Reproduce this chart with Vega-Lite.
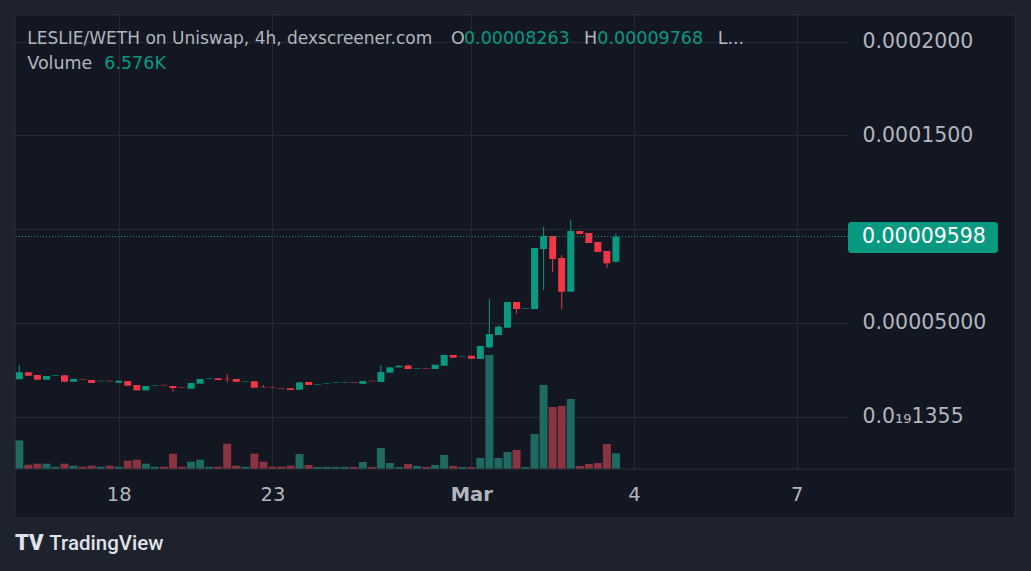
{
  "$schema": "https://vega.github.io/schema/vega-lite/v6.json",
  "width": 833,
  "height": 454,
  "autosize": {"type": "none"},
  "padding": {"left": 15, "top": 15, "right": 183, "bottom": 102},
  "background": "#131722",
  "config": {
    "view": {"fill": "#131722", "stroke": null},
    "text": {"font": "DejaVu Sans"},
    "axis": {"labelFont": "DejaVu Sans"},
    "scale": {"continuousPadding": 0}
  },
  "datasets": {
    "candles": [
      {"i": 0, "o": 1.985e-5, "h": 2.748e-5, "l": 1.985e-5, "c": 2.359e-5, "v": 11.97},
      {"i": 1, "o": 2.359e-5, "h": 2.359e-5, "l": 2.177e-5, "c": 2.177e-5, "v": 1.80},
      {"i": 2, "o": 2.215e-5, "h": 2.215e-5, "l": 1.964e-5, "c": 1.964e-5, "v": 2.22},
      {"i": 3, "o": 1.964e-5, "h": 2.161e-5, "l": 1.964e-5, "c": 2.161e-5, "v": 2.22},
      {"i": 4, "o": 2.170e-5, "h": 2.200e-5, "l": 2.170e-5, "c": 2.200e-5, "v": 0.96},
      {"i": 5, "o": 2.199e-5, "h": 2.199e-5, "l": 1.857e-5, "c": 1.857e-5, "v": 2.22},
      {"i": 6, "o": 1.857e-5, "h": 2.001e-5, "l": 1.857e-5, "c": 2.001e-5, "v": 1.38},
      {"i": 7, "o": 2.000e-5, "h": 2.000e-5, "l": 1.975e-5, "c": 1.975e-5, "v": 0.96},
      {"i": 8, "o": 1.948e-5, "h": 1.948e-5, "l": 1.788e-5, "c": 1.788e-5, "v": 1.38},
      {"i": 9, "o": 1.880e-5, "h": 1.905e-5, "l": 1.880e-5, "c": 1.905e-5, "v": 0.96},
      {"i": 10, "o": 1.905e-5, "h": 1.905e-5, "l": 1.880e-5, "c": 1.880e-5, "v": 1.38},
      {"i": 11, "o": 1.804e-5, "h": 1.910e-5, "l": 1.804e-5, "c": 1.910e-5, "v": 0.96},
      {"i": 12, "o": 1.894e-5, "h": 1.894e-5, "l": 1.644e-5, "c": 1.644e-5, "v": 3.47},
      {"i": 13, "o": 1.681e-5, "h": 1.681e-5, "l": 1.398e-5, "c": 1.398e-5, "v": 3.89},
      {"i": 14, "o": 1.398e-5, "h": 1.628e-5, "l": 1.398e-5, "c": 1.628e-5, "v": 2.22},
      {"i": 15, "o": 1.650e-5, "h": 1.675e-5, "l": 1.650e-5, "c": 1.675e-5, "v": 0.96},
      {"i": 16, "o": 1.690e-5, "h": 1.690e-5, "l": 1.665e-5, "c": 1.665e-5, "v": 0.96},
      {"i": 17, "o": 1.628e-5, "h": 1.628e-5, "l": 1.323e-5, "c": 1.521e-5, "v": 6.40},
      {"i": 18, "o": 1.570e-5, "h": 1.570e-5, "l": 1.545e-5, "c": 1.545e-5, "v": 0.96},
      {"i": 19, "o": 1.483e-5, "h": 1.788e-5, "l": 1.483e-5, "c": 1.788e-5, "v": 3.06},
      {"i": 20, "o": 1.750e-5, "h": 2.001e-5, "l": 1.750e-5, "c": 2.001e-5, "v": 3.89},
      {"i": 21, "o": 2.015e-5, "h": 2.040e-5, "l": 2.015e-5, "c": 2.040e-5, "v": 0.96},
      {"i": 22, "o": 2.038e-5, "h": 2.038e-5, "l": 1.948e-5, "c": 1.948e-5, "v": 0.96},
      {"i": 23, "o": 2.010e-5, "h": 2.252e-5, "l": 1.825e-5, "c": 1.990e-5, "v": 10.59},
      {"i": 24, "o": 2.001e-5, "h": 2.001e-5, "l": 1.857e-5, "c": 1.857e-5, "v": 1.38},
      {"i": 25, "o": 1.865e-5, "h": 1.890e-5, "l": 1.865e-5, "c": 1.890e-5, "v": 0.96},
      {"i": 26, "o": 1.878e-5, "h": 1.878e-5, "l": 1.537e-5, "c": 1.537e-5, "v": 6.40},
      {"i": 27, "o": 1.585e-5, "h": 1.681e-5, "l": 1.560e-5, "c": 1.560e-5, "v": 3.06},
      {"i": 28, "o": 1.570e-5, "h": 1.570e-5, "l": 1.545e-5, "c": 1.545e-5, "v": 0.96},
      {"i": 29, "o": 1.495e-5, "h": 1.495e-5, "l": 1.470e-5, "c": 1.470e-5, "v": 0.96},
      {"i": 30, "o": 1.505e-5, "h": 1.505e-5, "l": 1.414e-5, "c": 1.414e-5, "v": 1.38},
      {"i": 31, "o": 1.430e-5, "h": 1.825e-5, "l": 1.430e-5, "c": 1.825e-5, "v": 6.28},
      {"i": 32, "o": 1.841e-5, "h": 1.841e-5, "l": 1.681e-5, "c": 1.681e-5, "v": 1.67},
      {"i": 33, "o": 1.705e-5, "h": 1.730e-5, "l": 1.705e-5, "c": 1.730e-5, "v": 0.84},
      {"i": 34, "o": 1.760e-5, "h": 1.785e-5, "l": 1.760e-5, "c": 1.785e-5, "v": 0.84},
      {"i": 35, "o": 1.810e-5, "h": 1.835e-5, "l": 1.810e-5, "c": 1.835e-5, "v": 0.84},
      {"i": 36, "o": 1.820e-5, "h": 1.845e-5, "l": 1.820e-5, "c": 1.845e-5, "v": 0.84},
      {"i": 37, "o": 1.820e-5, "h": 1.820e-5, "l": 1.795e-5, "c": 1.795e-5, "v": 0.84},
      {"i": 38, "o": 1.750e-5, "h": 1.894e-5, "l": 1.750e-5, "c": 1.894e-5, "v": 2.93},
      {"i": 39, "o": 1.905e-5, "h": 1.905e-5, "l": 1.880e-5, "c": 1.880e-5, "v": 0.84},
      {"i": 40, "o": 1.841e-5, "h": 2.748e-5, "l": 1.841e-5, "c": 2.375e-5, "v": 8.79},
      {"i": 41, "o": 2.337e-5, "h": 2.625e-5, "l": 2.337e-5, "c": 2.625e-5, "v": 2.51},
      {"i": 42, "o": 2.625e-5, "h": 2.711e-5, "l": 2.625e-5, "c": 2.711e-5, "v": 0.84},
      {"i": 43, "o": 2.720e-5, "h": 2.764e-5, "l": 2.535e-5, "c": 2.535e-5, "v": 2.09},
      {"i": 44, "o": 2.560e-5, "h": 2.585e-5, "l": 2.560e-5, "c": 2.585e-5, "v": 1.26},
      {"i": 45, "o": 2.575e-5, "h": 2.575e-5, "l": 2.550e-5, "c": 2.550e-5, "v": 0.84},
      {"i": 46, "o": 2.535e-5, "h": 2.764e-5, "l": 2.535e-5, "c": 2.764e-5, "v": 1.67},
      {"i": 47, "o": 2.711e-5, "h": 3.282e-5, "l": 2.711e-5, "c": 3.282e-5, "v": 5.86},
      {"i": 48, "o": 3.282e-5, "h": 3.282e-5, "l": 3.138e-5, "c": 3.138e-5, "v": 1.26},
      {"i": 49, "o": 3.200e-5, "h": 3.225e-5, "l": 3.200e-5, "c": 3.225e-5, "v": 0.84},
      {"i": 50, "o": 3.244e-5, "h": 3.244e-5, "l": 3.084e-5, "c": 3.084e-5, "v": 0.84},
      {"i": 51, "o": 3.068e-5, "h": 3.762e-5, "l": 3.068e-5, "c": 3.762e-5, "v": 4.60},
      {"i": 52, "o": 3.693e-5, "h": 6.270e-5, "l": 3.639e-5, "c": 4.402e-5, "v": 47.7},
      {"i": 53, "o": 4.349e-5, "h": 4.883e-5, "l": 4.349e-5, "c": 4.792e-5, "v": 4.60},
      {"i": 54, "o": 4.739e-5, "h": 6.110e-5, "l": 4.739e-5, "c": 6.110e-5, "v": 7.12},
      {"i": 55, "o": 6.110e-5, "h": 6.110e-5, "l": 5.486e-5, "c": 5.736e-5, "v": 7.95},
      {"i": 56, "o": 5.760e-5, "h": 5.790e-5, "l": 5.760e-5, "c": 5.790e-5, "v": 0.84},
      {"i": 57, "o": 5.736e-5, "h": 8.991e-5, "l": 5.736e-5, "c": 8.991e-5, "v": 14.65},
      {"i": 58, "o": 8.938e-5, "h": 10.128e-5, "l": 6.750e-5, "c": 9.632e-5, "v": 35.2},
      {"i": 59, "o": 9.632e-5, "h": 9.632e-5, "l": 7.727e-5, "c": 8.404e-5, "v": 25.95},
      {"i": 60, "o": 8.458e-5, "h": 8.618e-5, "l": 5.720e-5, "c": 6.659e-5, "v": 26.4},
      {"i": 61, "o": 6.659e-5, "h": 10.486e-5, "l": 6.659e-5, "c": 9.899e-5, "v": 29.3},
      {"i": 62, "o": 9.899e-5, "h": 9.899e-5, "l": 9.739e-5, "c": 9.739e-5, "v": 1.26},
      {"i": 63, "o": 9.792e-5, "h": 9.792e-5, "l": 9.258e-5, "c": 9.258e-5, "v": 2.09},
      {"i": 64, "o": 9.312e-5, "h": 9.312e-5, "l": 8.778e-5, "c": 8.778e-5, "v": 2.51},
      {"i": 65, "o": 8.831e-5, "h": 8.831e-5, "l": 7.924e-5, "c": 8.175e-5, "v": 10.47},
      {"i": 66, "o": 8.263e-5, "h": 9.768e-5, "l": 8.207e-5, "c": 9.598e-5, "v": 6.576}
    ]
  },
  "layer": [
    {
      "data": {"name": "candles"},
      "layer": [
        {
          "mark": {"type": "bar", "size": 8, "orient": "vertical"},
          "encoding": {
            "x": {"field": "i", "type": "quantitative", "scale": {"domain": [-0.476, 91.67], "nice": false, "zero": false, "padding": 0},
              "axis": {"orient": "bottom", "values": [11, 28, 50, 68, 86], "labelExpr": "datum.value == 11 ? '18' : datum.value == 28 ? '23' : datum.value == 50 ? 'Mar' : datum.value == 68 ? '4' : '7'", "grid": true, "gridColor": "#252934", "gridWidth": 1, "ticks": false, "tickSize": 0, "domain": false, "labelPadding": 25, "labelBaseline": "middle", "labelFontSize": 19.5, "labelColor": "#b2b5be", "labelFlush": false, "labelOverlap": false, "title": null, "zindex": 0, "labelFontWeight": {"condition": {"test": "datum.value == 50", "value": "bold"}, "value": "normal"}}},
            "y": {"field": "v", "type": "quantitative", "scale": {"domain": [0, 190], "nice": false, "padding": 0}, "axis": null},
            "color": {"condition": {"test": "datum.c >= datum.o", "value": "#1f6a60"}, "value": "#8b3441"}
          }
        },
        {
          "layer": [
            {
              "mark": {"type": "rule", "strokeWidth": 1},
              "encoding": {
                "x": {"field": "i", "type": "quantitative", "scale": {"domain": [-0.476, 91.67], "nice": false, "zero": false, "padding": 0},
                  "axis": {"orient": "bottom", "values": [11, 28, 50, 68, 86], "labelExpr": "datum.value == 11 ? '18' : datum.value == 28 ? '23' : datum.value == 50 ? 'Mar' : datum.value == 68 ? '4' : '7'", "grid": true, "gridColor": "#252934", "gridWidth": 1, "ticks": false, "tickSize": 0, "domain": false, "labelPadding": 25, "labelBaseline": "middle", "labelFontSize": 19.5, "labelColor": "#b2b5be", "labelFlush": false, "labelOverlap": false, "title": null, "zindex": 0, "labelFontWeight": {"condition": {"test": "datum.value == 50", "value": "bold"}, "value": "normal"}}},
                "y": {"field": "l", "type": "quantitative", "scale": {"domain": [-0.000028, 0.00021425], "nice": false, "zero": false, "padding": 0},
                  "axis": {"orient": "right", "values": [0, 0.00005, 0.0001, 0.00015, 0.0002], "labelExpr": "datum.value < 1e-9 ? '0.0₁₉1355' : (datum.value > 0.000099 && datum.value < 0.000101) ? '' : format(datum.value, '.4r')", "grid": true, "gridColor": "#252934", "gridWidth": 1, "ticks": false, "tickSize": 0, "domain": false, "labelPadding": 14, "labelAlign": "left", "labelBaseline": "middle", "labelFontSize": 20.5, "labelColor": "#b2b5be", "labelFlush": false, "labelOverlap": false, "title": null, "zindex": 0}},
                "y2": {"field": "h"},
                "color": {"condition": {"test": "datum.c >= datum.o", "value": "#089981"}, "value": "#f23645"}
              }
            },
            {
              "mark": {"type": "bar", "size": 7, "orient": "vertical"},
              "encoding": {
                "x": {"field": "i", "type": "quantitative", "scale": {"domain": [-0.476, 91.67], "nice": false, "zero": false, "padding": 0},
                  "axis": {"orient": "bottom", "values": [11, 28, 50, 68, 86], "labelExpr": "datum.value == 11 ? '18' : datum.value == 28 ? '23' : datum.value == 50 ? 'Mar' : datum.value == 68 ? '4' : '7'", "grid": true, "gridColor": "#252934", "gridWidth": 1, "ticks": false, "tickSize": 0, "domain": false, "labelPadding": 25, "labelBaseline": "middle", "labelFontSize": 19.5, "labelColor": "#b2b5be", "labelFlush": false, "labelOverlap": false, "title": null, "zindex": 0, "labelFontWeight": {"condition": {"test": "datum.value == 50", "value": "bold"}, "value": "normal"}}},
                "y": {"field": "o", "type": "quantitative", "scale": {"domain": [-0.000028, 0.00021425], "nice": false, "zero": false, "padding": 0},
                  "axis": {"orient": "right", "values": [0, 0.00005, 0.0001, 0.00015, 0.0002], "labelExpr": "datum.value < 1e-9 ? '0.0₁₉1355' : (datum.value > 0.000099 && datum.value < 0.000101) ? '' : format(datum.value, '.4r')", "grid": true, "gridColor": "#252934", "gridWidth": 1, "ticks": false, "tickSize": 0, "domain": false, "labelPadding": 14, "labelAlign": "left", "labelBaseline": "middle", "labelFontSize": 20.5, "labelColor": "#b2b5be", "labelFlush": false, "labelOverlap": false, "title": null, "zindex": 0}},
                "y2": {"field": "c"},
                "color": {"condition": {"test": "datum.c >= datum.o", "value": "#089981"}, "value": "#f23645"}
              }
            }
          ]
        }
      ],
      "resolve": {"scale": {"y": "independent"}}
    },
    {
      "data": {"values": [{}]},
      "layer": [
        {
          "mark": {"type": "rect", "fill": "#1e222d"},
          "encoding": {
            "x": {"datum": -2.3, "type": "quantitative", "scale": {"domain": [-0.476, 91.67], "nice": false, "zero": false, "padding": 0}, "axis": null},
            "x2": {"datum": 112.2},
            "y": {"datum": 0.000224, "type": "quantitative", "scale": {"domain": [-0.000028, 0.00021425], "nice": false, "zero": false, "padding": 0}, "axis": null},
            "y2": {"datum": 0.00021425}
          }
        },
        {
          "mark": {"type": "rect", "fill": "#1e222d"},
          "encoding": {
            "x": {"datum": -2.3, "type": "quantitative", "scale": {"domain": [-0.476, 91.67], "nice": false, "zero": false, "padding": 0}, "axis": null},
            "x2": {"datum": 112.2},
            "y": {"datum": -0.00005416, "type": "quantitative", "scale": {"domain": [-0.000028, 0.00021425], "nice": false, "zero": false, "padding": 0}, "axis": null},
            "y2": {"datum": -0.000083}
          }
        },
        {
          "mark": {"type": "rect", "fill": "#1e222d"},
          "encoding": {
            "x": {"datum": -2.3, "type": "quantitative", "scale": {"domain": [-0.476, 91.67], "nice": false, "zero": false, "padding": 0}, "axis": null},
            "x2": {"datum": -0.476},
            "y": {"datum": 0.000224, "type": "quantitative", "scale": {"domain": [-0.000028, 0.00021425], "nice": false, "zero": false, "padding": 0}, "axis": null},
            "y2": {"datum": -0.000083}
          }
        },
        {
          "mark": {"type": "rect", "fill": "#1e222d"},
          "encoding": {
            "x": {"datum": 110.15, "type": "quantitative", "scale": {"domain": [-0.476, 91.67], "nice": false, "zero": false, "padding": 0}, "axis": null},
            "x2": {"datum": 112.2},
            "y": {"datum": 0.000224, "type": "quantitative", "scale": {"domain": [-0.000028, 0.00021425], "nice": false, "zero": false, "padding": 0}, "axis": null},
            "y2": {"datum": -0.000083}
          }
        },
        {
          "mark": {"type": "rect", "fillOpacity": 0, "stroke": "#2a2e39", "strokeWidth": 1},
          "encoding": {
            "x": {"datum": -0.476, "type": "quantitative", "scale": {"domain": [-0.476, 91.67], "nice": false, "zero": false, "padding": 0}, "axis": null},
            "x2": {"datum": 110.15},
            "y": {"datum": 0.00021425, "type": "quantitative", "scale": {"domain": [-0.000028, 0.00021425], "nice": false, "zero": false, "padding": 0}, "axis": null},
            "y2": {"datum": -0.00005416}
          }
        },
        {
          "mark": {"type": "rule", "stroke": "#2a2e39", "strokeWidth": 1},
          "encoding": {
            "x": {"datum": -0.476, "type": "quantitative", "scale": {"domain": [-0.476, 91.67], "nice": false, "zero": false, "padding": 0}, "axis": null},
            "x2": {"datum": 110.15},
            "y": {"datum": -0.000028, "type": "quantitative", "scale": {"domain": [-0.000028, 0.00021425], "nice": false, "zero": false, "padding": 0}, "axis": null}
          }
        },
        {
          "mark": {"type": "rule", "stroke": "#089981", "strokeWidth": 1, "strokeDash": [1, 2]},
          "encoding": {
            "y": {"datum": 0.00009598, "type": "quantitative", "scale": {"domain": [-0.000028, 0.00021425], "nice": false, "zero": false, "padding": 0}, "axis": null}
          }
        },
        {
          "mark": {"type": "rect", "fill": "#089981", "cornerRadius": 3},
          "encoding": {
            "x": {"datum": 91.67, "type": "quantitative", "scale": {"domain": [-0.476, 91.67], "nice": false, "zero": false, "padding": 0}, "axis": null},
            "x2": {"datum": 108.26},
            "y": {"datum": 0.00010379, "type": "quantitative", "scale": {"domain": [-0.000028, 0.00021425], "nice": false, "zero": false, "padding": 0}, "axis": null},
            "y2": {"datum": 0.00008725}
          }
        },
        {
          "mark": {"type": "text", "text": "0.00009598", "fill": "#ffffff", "fontSize": 20.5, "align": "left", "baseline": "middle"},
          "encoding": {
            "x": {"datum": 93.22, "type": "quantitative", "scale": {"domain": [-0.476, 91.67], "nice": false, "zero": false, "padding": 0}, "axis": null},
            "y": {"datum": 0.00009598, "type": "quantitative", "scale": {"domain": [-0.000028, 0.00021425], "nice": false, "zero": false, "padding": 0}, "axis": null}
          }
        },
        {
          "mark": {"type": "text", "text": "LESLIE/WETH on Uniswap, 4h, dexscreener.com", "fill": "#b2b5be", "fontSize": 17, "align": "left", "baseline": "alphabetic"},
          "encoding": {
            "x": {"datum": 0.885, "type": "quantitative", "scale": {"domain": [-0.476, 91.67], "nice": false, "zero": false, "padding": 0}, "axis": null},
            "y": {"datum": 0.00019893, "type": "quantitative", "scale": {"domain": [-0.000028, 0.00021425], "nice": false, "zero": false, "padding": 0}, "axis": null}
          }
        },
        {
          "mark": {"type": "text", "text": "O", "fill": "#b2b5be", "fontSize": 17.5, "align": "left", "baseline": "alphabetic"},
          "encoding": {
            "x": {"datum": 47.75, "type": "quantitative", "scale": {"domain": [-0.476, 91.67], "nice": false, "zero": false, "padding": 0}, "axis": null},
            "y": {"datum": 0.00019893, "type": "quantitative", "scale": {"domain": [-0.000028, 0.00021425], "nice": false, "zero": false, "padding": 0}, "axis": null}
          }
        },
        {
          "mark": {"type": "text", "text": "0.00008263", "fill": "#089981", "fontSize": 17.5, "align": "left", "baseline": "alphabetic"},
          "encoding": {
            "x": {"datum": 49.19, "type": "quantitative", "scale": {"domain": [-0.476, 91.67], "nice": false, "zero": false, "padding": 0}, "axis": null},
            "y": {"datum": 0.00019893, "type": "quantitative", "scale": {"domain": [-0.000028, 0.00021425], "nice": false, "zero": false, "padding": 0}, "axis": null}
          }
        },
        {
          "mark": {"type": "text", "text": "H", "fill": "#b2b5be", "fontSize": 17.5, "align": "left", "baseline": "alphabetic"},
          "encoding": {
            "x": {"datum": 62.47, "type": "quantitative", "scale": {"domain": [-0.476, 91.67], "nice": false, "zero": false, "padding": 0}, "axis": null},
            "y": {"datum": 0.00019893, "type": "quantitative", "scale": {"domain": [-0.000028, 0.00021425], "nice": false, "zero": false, "padding": 0}, "axis": null}
          }
        },
        {
          "mark": {"type": "text", "text": "0.00009768", "fill": "#089981", "fontSize": 17.5, "align": "left", "baseline": "alphabetic"},
          "encoding": {
            "x": {"datum": 63.94, "type": "quantitative", "scale": {"domain": [-0.476, 91.67], "nice": false, "zero": false, "padding": 0}, "axis": null},
            "y": {"datum": 0.00019893, "type": "quantitative", "scale": {"domain": [-0.000028, 0.00021425], "nice": false, "zero": false, "padding": 0}, "axis": null}
          }
        },
        {
          "mark": {"type": "text", "text": "L...", "fill": "#b2b5be", "fontSize": 17.5, "align": "left", "baseline": "alphabetic"},
          "encoding": {
            "x": {"datum": 77.26, "type": "quantitative", "scale": {"domain": [-0.476, 91.67], "nice": false, "zero": false, "padding": 0}, "axis": null},
            "y": {"datum": 0.00019893, "type": "quantitative", "scale": {"domain": [-0.000028, 0.00021425], "nice": false, "zero": false, "padding": 0}, "axis": null}
          }
        },
        {
          "mark": {"type": "text", "text": "Volume", "fill": "#b2b5be", "fontSize": 17.5, "align": "left", "baseline": "alphabetic"},
          "encoding": {
            "x": {"datum": 0.885, "type": "quantitative", "scale": {"domain": [-0.476, 91.67], "nice": false, "zero": false, "padding": 0}, "axis": null},
            "y": {"datum": 0.00018527, "type": "quantitative", "scale": {"domain": [-0.000028, 0.00021425], "nice": false, "zero": false, "padding": 0}, "axis": null}
          }
        },
        {
          "mark": {"type": "text", "text": "6.576K", "fill": "#089981", "fontSize": 17.5, "align": "left", "baseline": "alphabetic"},
          "encoding": {
            "x": {"datum": 9.40, "type": "quantitative", "scale": {"domain": [-0.476, 91.67], "nice": false, "zero": false, "padding": 0}, "axis": null},
            "y": {"datum": 0.00018527, "type": "quantitative", "scale": {"domain": [-0.000028, 0.00021425], "nice": false, "zero": false, "padding": 0}, "axis": null}
          }
        },
        {
          "mark": {"type": "text", "text": "TV", "fill": "#e0e3eb", "fontSize": 22, "font": "Roboto", "fontWeight": 900, "align": "left", "baseline": "alphabetic"},
          "encoding": {
            "x": {"datum": -0.476, "type": "quantitative", "scale": {"domain": [-0.476, 91.67], "nice": false, "zero": false, "padding": 0}, "axis": null},
            "y": {"datum": -0.00007124, "type": "quantitative", "scale": {"domain": [-0.000028, 0.00021425], "nice": false, "zero": false, "padding": 0}, "axis": null}
          }
        },
        {
          "mark": {"type": "text", "text": "TradingView", "fill": "#e0e3eb", "fontSize": 20.5, "font": "Roboto", "fontWeight": 500, "align": "left", "baseline": "alphabetic"},
          "encoding": {
            "x": {"datum": 3.32, "type": "quantitative", "scale": {"domain": [-0.476, 91.67], "nice": false, "zero": false, "padding": 0}, "axis": null},
            "y": {"datum": -0.00007124, "type": "quantitative", "scale": {"domain": [-0.000028, 0.00021425], "nice": false, "zero": false, "padding": 0}, "axis": null}
          }
        }
      ]
    }
  ],
  "resolve": {"scale": {"x": "independent", "y": "independent"}}
}
